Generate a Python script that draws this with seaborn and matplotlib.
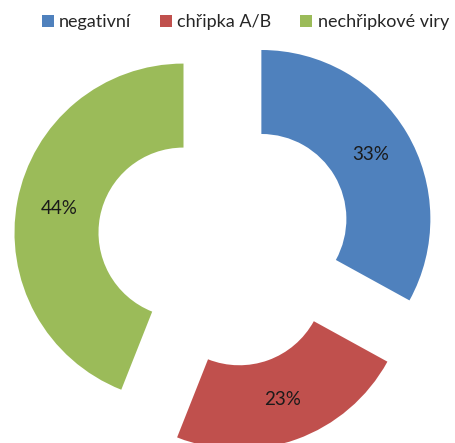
import matplotlib
matplotlib.use("Agg")
import matplotlib.pyplot as plt
from matplotlib.patches import Patch
import seaborn as sns

categories = ["negativní", "chřipka A/B", "nechřipkové viry"]
shares = [33, 23, 44]
colors = ["#4F81BD", "#C0504D", "#9BBB59"]

sns.set_theme(style="white")
plt.rcParams["font.family"] = ["Lato", "DejaVu Sans"]
palette = sns.color_palette(colors)

fig = plt.figure(figsize=(4.55, 4.43), dpi=100)
ax = fig.add_axes([0, 0, 1, 1])

wedges, texts, autotexts = ax.pie(
    shares,
    colors=palette,
    startangle=90,
    counterclock=False,
    radius=1.0,
    explode=[0.25] * len(shares),
    wedgeprops=dict(width=0.497, linewidth=0),
    autopct=lambda p: f"{p:.0f}%",
    pctdistance=0.75,
    textprops=dict(fontsize=13.5, color="#1a1a1a"),
)

ax.set_xlim(-225 / 169, (455 - 225) / 169)
ax.set_ylim(-(443 - 240.5) / 169, 240.5 / 169)
ax.set_aspect("auto")
ax.axis("off")

handles = [Patch(facecolor=c, edgecolor="none") for c in palette]
fig.legend(
    handles, categories,
    loc="center left", bbox_to_anchor=(42 / 455, 1 - 22 / 443),
    ncol=3, frameon=False, fontsize=13,
    handlelength=0.65, handleheight=0.65, handletextpad=0.3,
    columnspacing=1.6, borderaxespad=0, borderpad=0,
)

fig.savefig("out.png", dpi=100)
